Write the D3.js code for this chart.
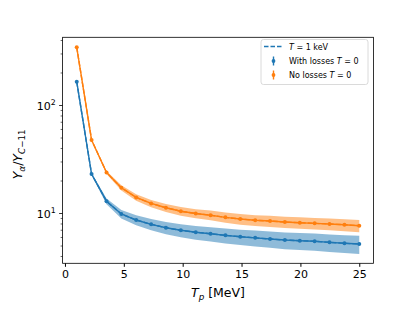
<!DOCTYPE html>
<html>
<head>
<meta charset="utf-8">
<script src="https://cdn.jsdelivr.net/npm/d3@7"></script>
<style>
  body { margin: 0; background: #fff; }
  text { font-family: "DejaVu Sans", sans-serif; fill: #000; }
</style>
</head>
<body>
<div id="chart"></div>
<script>
// proton energy T_p [MeV]
var tp = [1, 2.26, 3.53, 4.79, 6.05, 7.32, 8.58, 9.84, 11.11, 12.37, 13.63, 14.89, 16.16, 17.42, 18.68, 19.95, 21.21, 22.47, 23.74, 25]
// yield ratio, T = 0
var withLosses = [166, 23.2, 13.0, 9.9, 8.7, 7.94, 7.39, 6.99, 6.70, 6.5, 6.28, 6.10, 5.95, 5.81, 5.68, 5.60, 5.53, 5.41, 5.30, 5.22]
var noLosses = [346, 48, 24.0, 17.3, 14.1, 12.4, 11.3, 10.5, 10.0, 9.65, 9.22, 8.89, 8.65, 8.52, 8.34, 8.22, 8.11, 7.99, 7.87, 7.71]
// band half-widths (T = 1 keV)
var withLossesErr = [1.5, 0.5, 0.8, 0.9, 0.92, 0.95, 0.95, 0.97, 0.98, 0.98, 0.99, 0.99, 1.0, 1.0, 1.0, 1.0, 1.0, 1.0, 1.0, 1.0]
var noLossesErr = [2, 0.6, 0.8, 0.95, 0.95, 0.95, 0.97, 0.98, 0.98, 0.99, 0.99, 1.0, 1.0, 1.0, 1.0, 1.0, 1.0, 1.0, 1.0, 1.0]
var xTicks = [0, 5, 10, 15, 20, 25]
var yTicks = [10, 100]
var legendLabels = ["T = 1 keV", "With losses T = 0", "No losses T = 0"]

var W = 415, H = 311
var plotL = 62.6, plotR = 373.4, plotT = 37.3, plotB = 263.3

var blue = "#1f77b4", orange = "#ff7f0e"

var svg = d3.select("#chart").append("svg")
  .attr("width", W)
  .attr("height", H)

var x = d3.scaleLinear().domain([-0.2, 26.2]).range([plotL, plotR])
var y = d3.scaleLog().domain([3.46, 428]).range([plotB, plotT])

var series = [
  { vals: withLosses, err: withLossesErr, color: blue },
  { vals: noLosses, err: noLossesErr, color: orange }
]

// bands
series.forEach(function (s) {
  var area = d3.area()
    .x(function (d, i) { return x(tp[i]) })
    .y0(function (d, i) { return y(d - s.err[i]) })
    .y1(function (d, i) { return y(d + s.err[i]) })
  svg.append("path")
    .attr("d", area(s.vals))
    .attr("fill", s.color)
    .attr("fill-opacity", 0.5)
})

var line = d3.line()
  .x(function (d, i) { return x(tp[i]) })
  .y(function (d) { return y(d) })

// dashed T = 1 keV lines
series.forEach(function (s) {
  svg.append("path")
    .attr("d", line(s.vals))
    .attr("fill", "none")
    .attr("stroke", s.color)
    .attr("stroke-width", 1.4)
    .attr("stroke-dasharray", "5,2")
})

// T = 0 errorbar lines with markers
series.forEach(function (s) {
  svg.append("path")
    .attr("d", line(s.vals))
    .attr("fill", "none")
    .attr("stroke", s.color)
    .attr("stroke-width", 1.4)
  svg.selectAll(null)
    .data(s.vals)
    .enter()
    .append("circle")
    .attr("cx", function (d, i) { return x(tp[i]) })
    .attr("cy", function (d) { return y(d) })
    .attr("r", 2)
    .attr("fill", s.color)
})

// axes
var xAxis = d3.axisBottom(x).tickValues(xTicks).tickSize(3.5).tickPadding(3).tickFormat(d3.format("d"))
var gx = svg.append("g")
  .attr("transform", "translate(0," + plotB + ")")
  .call(xAxis)
gx.select(".domain").remove()
gx.selectAll("text").attr("font-size", 11).attr("font-family", "DejaVu Sans")

var minorVals = []
;[1, 10, 100].forEach(function (dec) {
  for (var k = 2; k <= 9; k++) {
    var v = dec * k
    if (v > 3.46 && v < 428) minorVals.push(v)
  }
})
var gy = svg.append("g").attr("transform", "translate(" + plotL + ",0)")
gy.selectAll(".minor")
  .data(minorVals)
  .enter()
  .append("line")
  .attr("x1", -2).attr("x2", 0)
  .attr("y1", function (d) { return y(d) })
  .attr("y2", function (d) { return y(d) })
  .attr("stroke", "#000").attr("stroke-width", 0.6)
gy.selectAll(".major")
  .data(yTicks)
  .enter()
  .append("line")
  .attr("x1", -3.5).attr("x2", 0)
  .attr("y1", function (d) { return y(d) })
  .attr("y2", function (d) { return y(d) })
  .attr("stroke", "#000").attr("stroke-width", 0.8)
var yl = gy.selectAll(".ylab")
  .data(yTicks)
  .enter()
  .append("text")
  .attr("x", -7)
  .attr("y", function (d) { return y(d) + 4 })
  .attr("text-anchor", "end")
  .attr("font-size", 11)
yl.append("tspan").text("10")
yl.append("tspan")
  .attr("dy", -5)
  .attr("font-size", 7.8)
  .text(function (d) { return Math.round(Math.log10(d)) })

// frame
svg.append("rect")
  .attr("x", plotL).attr("y", plotT)
  .attr("width", plotR - plotL).attr("height", plotB - plotT)
  .attr("fill", "none").attr("stroke", "#000").attr("stroke-width", 0.8)

// axis labels
var xl = svg.append("text")
  .attr("x", (plotL + plotR) / 2)
  .attr("y", 297)
  .attr("text-anchor", "middle")
  .attr("font-size", 12.5)
xl.append("tspan").attr("font-style", "italic").text("T")
xl.append("tspan").attr("font-style", "italic").attr("font-size", 8.8).attr("dy", 2.5).text("p")
xl.append("tspan").attr("dy", -2.5).text(" [MeV]")

var ylab = svg.append("text")
  .attr("transform", "translate(22," + ((plotT + plotB) / 2 + 4) + ") rotate(-90)")
  .attr("text-anchor", "middle")
  .attr("font-size", 12.5)
ylab.append("tspan").attr("font-style", "italic").text("Y")
ylab.append("tspan").attr("font-style", "italic").attr("font-size", 8.8).attr("dy", 2.5).text("α")
ylab.append("tspan").attr("dy", -2.5).text("/")
ylab.append("tspan").attr("font-style", "italic").text("Y")
ylab.append("tspan").attr("font-style", "italic").attr("font-size", 8.8).attr("dy", 2.5).text("C")
ylab.append("tspan").attr("font-size", 8.8).text("−11")

// legend
var lg = svg.append("g")
lg.append("rect")
  .attr("x", 261).attr("y", 39.5)
  .attr("width", 107).attr("height", 45)
  .attr("rx", 2.5)
  .attr("fill", "#fff").attr("fill-opacity", 0.8)
  .attr("stroke", "#d0d0d0").attr("stroke-width", 0.8)

var rowsY = [46.5, 61, 75]
lg.append("line")
  .attr("x1", 264).attr("x2", 283)
  .attr("y1", rowsY[0]).attr("y2", rowsY[0])
  .attr("stroke", blue).attr("stroke-width", 1.4)
  .attr("stroke-dasharray", "4.5,2")
;[blue, orange].forEach(function (c, i) {
  var yy = rowsY[i + 1]
  lg.append("line")
    .attr("x1", 273.5).attr("x2", 273.5)
    .attr("y1", yy - 4.5).attr("y2", yy + 4.5)
    .attr("stroke", c).attr("stroke-width", 1.4)
  lg.append("circle")
    .attr("cx", 273.5).attr("cy", yy).attr("r", 1.9)
    .attr("fill", c)
})

legendLabels.forEach(function (lab, i) {
  var parts = lab.split("T = ")
  var t = lg.append("text")
    .attr("x", 289)
    .attr("y", rowsY[i] + 3)
    .attr("font-size", 8)
  if (parts[0]) t.append("tspan").text(parts[0])
  t.append("tspan").attr("font-style", "italic").text("T")
  t.append("tspan").text(" = " + parts[1])
})
</script>
</body>
</html>
